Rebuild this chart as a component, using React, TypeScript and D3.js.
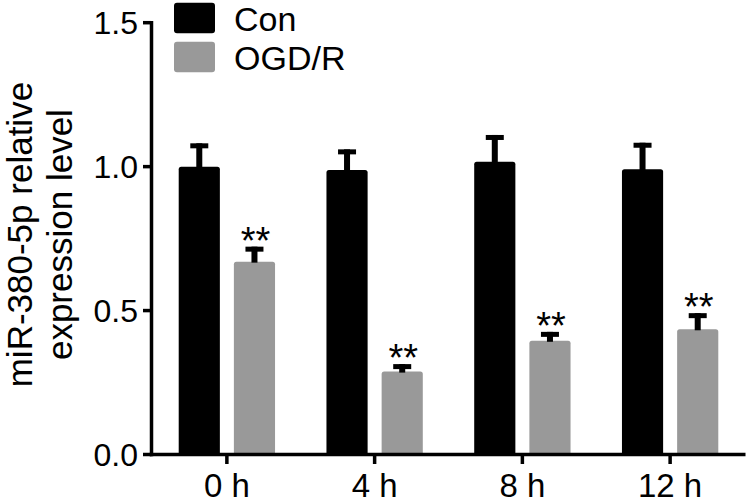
import React from "react";
import * as d3 from "d3";

const categories = ["0 h", "4 h", "8 h", "12 h"];
const series = ["Con", "OGD/R"];
const conValues = [1.0, 0.988, 1.017, 0.991];
const conErrTop = [1.081, 1.06, 1.11, 1.083];
const ogdValues = [0.67, 0.288, 0.395, 0.435];
const ogdErrTop = [0.722, 0.314, 0.426, 0.491];
const yTicks = [0, 0.5, 1.0, 1.5];
const colors = ["#000000", "#999999"];

const W = 749;
const H = 504;
const FONT = "'Liberation Sans', Arial, Helvetica, sans-serif";

export default function App() {
  const axisX = 151.5;
  const axisRight = 745.5;
  const y = d3.scaleLinear().domain([0, 1.5]).range([454.5, 22.7]);
  const x0 = d3.scaleBand<string>().domain(categories).range([153, 744]).paddingInner(0).paddingOuter(0);
  const x1 = d3
    .scaleBand<string>()
    .domain(series)
    .range([0, x0.bandwidth()])
    .paddingInner(0.254)
    .paddingOuter(0.466);

  const data = [
    { values: conValues, err: conErrTop },
    { values: ogdValues, err: ogdErrTop },
  ];

  const barPath = (x: number, w: number, top: number, bottom: number, r: number) =>
    `M${x},${bottom}V${top + r}Q${x},${top} ${x + r},${top}H${x + w - r}Q${x + w},${top} ${x + w},${top + r}V${bottom}Z`;

  const bw = x1.bandwidth();

  return (
    <svg width={W} height={H} style={{ position: "absolute", left: 0, top: 0, background: "#fff" }} fontFamily={FONT}>
      <rect x={0} y={0} width={W} height={H} fill="#fff" />
      {/* bars */}
      {series.map((s, si) =>
        categories.map((c, ci) => {
          const bx = (x0(c) as number) + (x1(s) as number);
          const v = data[si].values[ci];
          const e = data[si].err[ci];
          const cx = bx + bw / 2;
          return (
            <g key={s + c}>
              <path d={barPath(bx, bw, y(v), y(0), 2.5)} fill={colors[si]} />
              <rect x={cx - 3} y={y(e)} width={6} height={y(v) - y(e) + 1} fill="#000" />
              <rect x={cx - 9} y={y(e)} width={18} height={5} fill="#000" />
              {si === 1 && (
                <text x={cx + 1} y={y(e) + 7} textAnchor="middle" fontSize={38} fill="#000">
                  **
                </text>
              )}
            </g>
          );
        })
      )}
      {/* y axis */}
      <line x1={axisX} x2={axisX} y1={y(1.5) - 1.75} y2={y(0) + 1.75} stroke="#000" strokeWidth={3.5} />
      {yTicks.map((t) => (
        <g key={t}>
          <line x1={143} x2={axisX} y1={y(t)} y2={y(t)} stroke="#000" strokeWidth={3.5} />
          <text x={138} y={y(t)} dy="0.35em" textAnchor="end" fontSize={32} fill="#000">
            {d3.format(".1f")(t)}
          </text>
        </g>
      ))}
      {/* x axis */}
      <line x1={axisX - 1.75} x2={axisRight} y1={y(0)} y2={y(0)} stroke="#000" strokeWidth={3.5} />
      {categories.map((c) => {
        const cx = (x0(c) as number) + x0.bandwidth() / 2;
        return (
          <g key={c}>
            <line x1={cx} x2={cx} y1={y(0)} y2={464} stroke="#000" strokeWidth={3.5} />
            <text x={cx} y={497} textAnchor="middle" fontSize={33} fill="#000">
              {c}
            </text>
          </g>
        );
      })}
      {/* y title */}
      <text transform="translate(32,234.6) rotate(-90)" textAnchor="middle" fontSize={35} fill="#000">
        miR-380-5p relative
      </text>
      <text transform="translate(72,234.6) rotate(-90)" textAnchor="middle" fontSize={35} fill="#000">
        expression level
      </text>
      {/* legend */}
      {series.map((s, i) => (
        <g key={s} transform={`translate(174,${2.7 + i * 39})`}>
          <rect x={0} y={0} width={41} height={30.6} rx={3} fill={colors[i]} />
          <text x={60} y={28.3} fontSize={34} fill="#000">
            {s}
          </text>
        </g>
      ))}
    </svg>
  );
}
